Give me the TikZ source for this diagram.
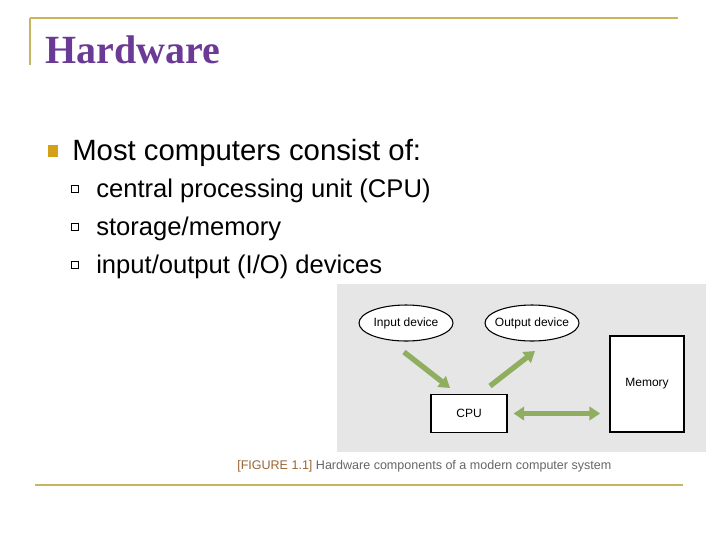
\documentclass[tikz,border=0pt]{standalone}
\usepackage{fontspec}
\setmainfont{Liberation Sans}
\newfontfamily\serifx{Liberation Serif}
\usetikzlibrary{shapes.geometric,arrows.meta}
\definecolor{gold}{HTML}{C8B560}
\definecolor{bul}{HTML}{D4A017}
\definecolor{ttl}{HTML}{6B3A96}
\definecolor{grn}{HTML}{8FAE5F}
\definecolor{pane}{HTML}{E6E6E6}
\tikzset{
 txt/.style={anchor=west,inner sep=0pt,font=\fontsize{22}{26}\selectfont},
 sub/.style={anchor=west,inner sep=0pt,font=\fontsize{19.2}{22}\selectfont},
 dev/.style={ellipse,draw,thick,fill=white,minimum width=70.5pt,minimum height=27pt,inner sep=0pt,font=\fontsize{9}{11}\selectfont},
 box/.style={rectangle,draw,thick,fill=white,inner sep=0pt,font=\fontsize{9}{11}\selectfont},
 garr/.style={grn,line width=4pt,-{Triangle[length=8pt,width=10pt]}},
}
\begin{document}
\begin{tikzpicture}[x=0.75pt,y=-0.75pt]
\useasboundingbox[fill=white] (0,0) rectangle (720,540);
\draw[gold,line width=1.3pt] (30,18) -- (678,18);
\draw[gold,line width=1.3pt] (30,18) -- (30,65);
\draw[gold,line width=1.3pt] (35,485) -- (683,485);
\node[anchor=base west,inner sep=0pt,text=ttl,font=\serifx\bfseries\fontsize{30}{34}\selectfont] (title) at (45,63) {Hardware};
\fill[bul] (48,145) rectangle (58,157);
\node[txt] (main) at (72,153) {Most computers consist of:};
\foreach \y/\t [count=\i] in {189/{central processing unit (CPU)},227/{storage/memory},265/{input/output (I/O) devices}}{
 \draw[line width=0.6pt] (71,\y-3.5) rectangle (78,\y+3.5);
 \node[sub] (s\i) at (96,\y+2) {\t};
}
\fill[pane] (337,284) rectangle (706,452);
\node[dev] (in) at (406,323) {Input device};
\node[dev,inner xsep=-3pt] (out) at (532,323) {Output device};
\node[box,minimum width=57pt,minimum height=28pt] (cpu) at (469,413.5) {CPU};
\node[box,minimum width=55.5pt,minimum height=72pt] (mem) at (647,384) {Memory};
\coordinate (a1) at (404,352); \coordinate (a2) at (450,388);
\coordinate (b1) at (490,386); \coordinate (b2) at (535,351);
\draw[garr] (a1) -- (a2);
\draw[garr] (b1) -- (b2);
\draw[grn,line width=4pt,{Triangle[length=8pt,width=10pt]}-{Triangle[length=8pt,width=10pt]}] (cpu.east)++(6,0) -- ([xshift=-7pt]mem.west |- cpu.east);
\node[anchor=west,inner sep=0pt,text=gray!80!black,font=\fontsize{9.4}{11}\selectfont] (cap) at (237,466) {{\color{brown!80!black}[FIGURE 1.1]} Hardware components of a modern computer system};
\end{tikzpicture}
\end{document}
